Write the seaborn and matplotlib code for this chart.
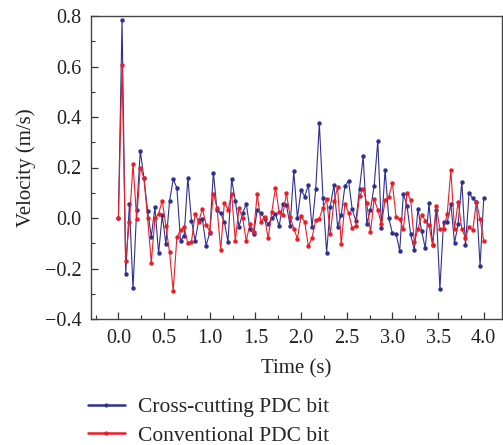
import numpy as np
import pandas as pd
import matplotlib
matplotlib.use("Agg")
import matplotlib.pyplot as plt
from matplotlib.lines import Line2D
from matplotlib.ticker import MultipleLocator
import seaborn as sns

# ---- data ----
time_step = 0.04
cross_cutting = [
    0.0, 0.784, -0.222, 0.054, -0.279, 0.032, 0.265, 0.157, 0.028, -0.074,
    0.042, -0.14, 0.012, -0.104, 0.067, 0.153, 0.12, -0.09, -0.07, 0.16,
    -0.01, -0.09, -0.008, -0.004, -0.11, -0.058, 0.18, 0.03, 0.018, -0.015,
    -0.095, 0.154, 0.068, -0.035, 0.018, 0.056, -0.042, -0.064, 0.032, 0.021,
    -0.002, -0.025, 0.0, 0.016, -0.033, 0.056, 0.051, -0.03, 0.186, 0.0,
    0.112, 0.085, 0.131, -0.037, 0.113, 0.375, 0.078, -0.137, 0.045, 0.132,
    -0.034, 0.012, 0.127, 0.147, 0.034, -0.012, 0.115, 0.244, -0.022, 0.033,
    0.127, 0.305, -0.04, 0.192, 0.0, -0.06, -0.063, -0.13, 0.095, 0.049,
    -0.065, -0.127, 0.036, -0.052, -0.12, 0.058, -0.107, 0.032, -0.28, -0.017,
    -0.017, 0.055, -0.098, -0.025, 0.144, -0.107, 0.1, 0.078, 0.065, -0.19,
    0.078,
]
conventional = [
    0.0, 0.606, -0.169, -0.015, 0.214, -0.005, 0.2, 0.157, 0.0, -0.177,
    -0.001, 0.016, 0.069, -0.032, -0.136, -0.288, -0.077, -0.048, -0.036, -0.1,
    -0.094, 0.014, -0.014, 0.037, -0.026, -0.054, 0.095, 0.04, -0.127, 0.061,
    0.033, 0.095, -0.09, 0.038, 0.0, -0.09, -0.024, -0.054, 0.095, -0.015,
    0.004, -0.08, 0.025, 0.12, 0.024, 0.012, 0.099, 0.005, -0.042, -0.082,
    0.008, -0.015, -0.112, -0.079, -0.009, -0.002, 0.041, 0.074, -0.062, 0.066,
    0.121, -0.104, 0.057, 0.021, -0.04, -0.031, 0.087, 0.114, 0.058, -0.057,
    0.074, 0.033, -0.025, 0.07, 0.084, 0.137, 0.005, -0.004, -0.045, 0.1,
    0.072, -0.094, -0.045, 0.012, -0.01, -0.028, -0.107, 0.048, -0.044, -0.044,
    0.015, 0.19, -0.044, 0.065, -0.044, -0.078, -0.034, -0.048, 0.065, -0.005,
    -0.09,
]
series_names = ["Cross-cutting PDC bit", "Conventional PDC bit"]
x_ticks = [0.0, 0.5, 1.0, 1.5, 2.0, 2.5, 3.0, 3.5, 4.0]
y_ticks = [-0.4, -0.2, 0.0, 0.2, 0.4, 0.6, 0.8]

times = np.round(np.arange(len(cross_cutting)) * time_step, 2)
df = pd.concat([
    pd.DataFrame({"Time": times, "Velocity": cross_cutting, "Bit": series_names[0]}),
    pd.DataFrame({"Time": times, "Velocity": conventional, "Bit": series_names[1]}),
])

# ---- style ----
sns.set_theme(style="ticks")
plt.rcParams["font.family"] = ["Liberation Serif", "DejaVu Serif"]
plt.rcParams["axes.unicode_minus"] = True

blue = "#2e3192"
red = "#ed1c24"
palette = {series_names[0]: blue, series_names[1]: red}

fig = plt.figure(figsize=(5.03, 4.45), dpi=100)
ax = fig.add_axes([91 / 503, 1 - 319 / 445, (502 - 91) / 503, (319 - 16) / 445])

sns.lineplot(data=df, x="Time", y="Velocity", hue="Bit", palette=palette,
             hue_order=series_names,
             marker="o", markersize=3.2, markeredgewidth=0, linewidth=0.8,
             ax=ax, legend=False, estimator=None, sort=False)

ax.set_xlim(-0.3, 4.2)
ax.set_ylim(-0.4, 0.8)
ax.set_xticks(x_ticks)
ax.set_yticks(y_ticks)
ax.set_xticklabels([f"{v:.1f}" for v in x_ticks])
ax.set_yticklabels([f"{v:.1f}".replace("-", "\u2212") for v in y_ticks])
ax.xaxis.set_minor_locator(MultipleLocator(0.25))
ax.yaxis.set_minor_locator(MultipleLocator(0.1))
ax.tick_params(which="major", direction="in", length=5, width=0.9, labelsize=14.5,
               color="#333333", labelcolor="#222222", pad=7)
ax.tick_params(which="minor", direction="in", length=3, width=0.8, color="#333333")
for s in ax.spines.values():
    s.set_visible(True)
    s.set_linewidth(1.0)
    s.set_color("#444444")

ax.set_xlabel("Time (s)", fontsize=15, color="#222222", labelpad=8)
ax.set_ylabel("Velocity (m/s)", fontsize=15, color="#222222", labelpad=6)

handles = [
    Line2D([], [], color=blue, lw=1.8, marker="o", markersize=2),
    Line2D([], [], color=red, lw=1.8, marker="o", markersize=2),
]
fig.legend(handles, series_names, loc="upper left",
           bbox_to_anchor=(88 / 503, 1 - 397 / 445), frameon=False,
           fontsize=15.5, handlelength=1.7, handletextpad=0.6,
           labelspacing=0.4, borderpad=0, borderaxespad=0)

fig.savefig("out.png", dpi=100)
